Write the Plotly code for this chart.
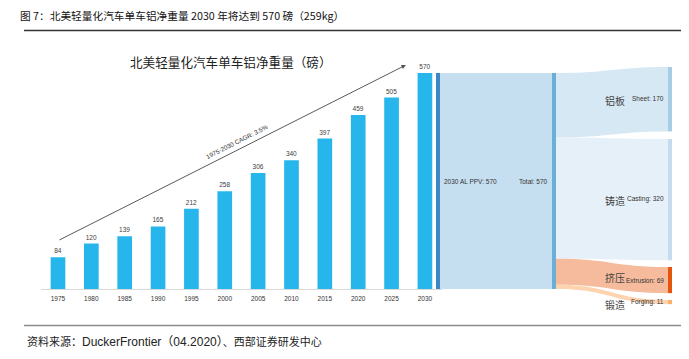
import plotly.graph_objects as go

# ---- data ----
years = ["1975", "1980", "1985", "1990", "1995", "2000", "2005", "2010", "2015", "2020", "2025", "2030"]
al_weight = [84, 120, 139, 165, 212, 258, 306, 340, 397, 459, 505, 570]

node_names = ["2030 AL PPV", "Total", "Sheet", "Casting", "Extrusion", "Forging"]
node_cn = ["", "", "铝板", "铸造", "挤压", "锻造"]
link_source = [0, 1, 1, 1, 1]
link_target = [1, 2, 3, 4, 5]
link_value = [570, 170, 320, 69, 11]

title_text = "图 7：北美轻量化汽车单车铝净重量 2030 年将达到 570 磅（259kg）"
subtitle_text = "北美轻量化汽车单车铝净重量（磅）"
cagr_text = "1975-2030 CAGR: 3.5%"
source_parts = ["资料来源：", "DuckerFrontier（04.2020）", "、西部证券研发中心"]

node_values = [570, 570] + link_value[1:]

W, H = 689, 359
OFF = 8  # page body margin offset
def px(x):
    return (x - OFF) / W
def py(y):
    return 1 - (y - OFF) / H

CJK = "Noto Sans CJK SC"
LAT = "Liberation Sans"

fig = go.Figure()

fig.add_trace(go.Bar(
    x=years, y=al_weight,
    marker=dict(color="#27b6eb", line=dict(width=0)),
    text=al_weight, textposition="outside",
    textfont=dict(family=LAT, size=6.5, color="#404040"),
    cliponaxis=False, width=0.44, hoverinfo="skip",
))

fig.add_trace(go.Sankey(
    domain=dict(x=[px(436), px(672)], y=[py(306), py(66)]),
    arrangement="fixed",
    node=dict(
        label=["" for _ in node_names],
        pad=8, thickness=4,
        line=dict(width=0),
        color=["#3f86c4", "#6baed6", "#a6cde4", "#c6dbef", "#e6550d", "#fdae6b"],
        x=[0.00847, 0.5, 0.99153, 0.99153, 0.99153, 0.99153],
        y=[0.4792, 0.4792, 0.1383, 0.5567, 0.8919, 0.9836],
        hoverinfo="skip",
    ),
    link=dict(
        source=link_source, target=link_target, value=link_value,
        color=["#c6dff0", "#d6e8f3", "#e6f0f9", "#f5bb9c", "#fdd3b0"],
        hoverinfo="skip",
    ),
))

ann = []
# subtitle
ann.append(dict(xref="paper", yref="paper", x=px(231), y=py(62), text=subtitle_text,
                showarrow=False, font=dict(family=CJK, size=12.6, color="#222"),
                xanchor="center", yanchor="middle"))
# title
ann.append(dict(xref="paper", yref="paper", x=px(18), y=py(16), text=title_text,
                showarrow=False, font=dict(family=CJK, size=10.7, color="#111"),
                xanchor="left", yanchor="middle"))
# source
source_html = (f"{source_parts[0]}<span style='font-size:12px'>{source_parts[1]}</span>"
               f"{source_parts[2]}")
ann.append(dict(xref="paper", yref="paper", x=px(25), y=py(342), text=source_html,
                showarrow=False, font=dict(family=LAT + ", " + CJK, size=11, color="#222"),
                xanchor="left", yanchor="middle"))
# CAGR arrow
ann.append(dict(xref="x", yref="y", axref="x", ayref="y", x=10.43, y=591, ax=0, ay=127.5,
                showarrow=True, arrowhead=2, arrowsize=0.9, arrowwidth=1,
                arrowcolor="#595959", text=""))
ann.append(dict(xref="x", yref="y", x=5.37, y=388, text=cagr_text, textangle=-26.8,
                showarrow=False, font=dict(family=LAT, size=6.3, color="#333"),
                xanchor="center", yanchor="middle"))

# sankey labels
lab_style = dict(family=LAT, size=6.5, color="#333")
ann.append(dict(xref="paper", yref="paper", x=px(442), y=py(181),
                text=f"{node_names[0]}: {node_values[0]}", showarrow=False,
                font=lab_style, xanchor="left", yanchor="middle"))
ann.append(dict(xref="paper", yref="paper", x=px(550), y=py(181),
                text=f"{node_names[1]}: {node_values[1]}", showarrow=False,
                font=lab_style, xanchor="right", yanchor="middle"))
right_y = [99, 199, 280, 302]
cn_y = [100, 200, 277, 304]
for i in range(2, 6):
    ann.append(dict(xref="paper", yref="paper", x=px(666), y=py(right_y[i - 2]),
                    text=f"{node_names[i]}: {node_values[i]}", showarrow=False,
                    font=lab_style, xanchor="right", yanchor="middle"))
    ann.append(dict(xref="paper", yref="paper", x=px(615), y=py(cn_y[i - 2]),
                    text=node_cn[i], showarrow=False,
                    font=dict(family=CJK, size=10, color="#444"),
                    xanchor="center", yanchor="middle"))

shapes = [
    dict(type="line", xref="paper", yref="paper", x0=px(24), x1=px(681), y0=py(30.5), y1=py(30.5),
         line=dict(color="#333", width=1.3)),
    dict(type="line", xref="paper", yref="paper", x0=px(24), x1=px(681), y0=py(325.5), y1=py(325.5),
         line=dict(color="#8c8c8c", width=1.6)),
]

fig.update_layout(
    width=W, height=H, margin=dict(l=0, r=0, t=0, b=0),
    paper_bgcolor="white", plot_bgcolor="white",
    showlegend=False,
    annotations=ann, shapes=shapes,
    xaxis=dict(domain=[px(41.3), px(441.6)], range=[-0.5, 11.5], type="category",
               showgrid=False, zeroline=False, showline=True, linecolor="#d9d9d9", linewidth=1,
               ticks="", ticklabelstandoff=3,
               tickfont=dict(family=LAT, size=6.5, color="#333"), fixedrange=True),
    yaxis=dict(domain=[py(289), py(61.6)], range=[0, 600], visible=False, fixedrange=True),
    bargap=0.56,
)

fig.write_html("out.html")
